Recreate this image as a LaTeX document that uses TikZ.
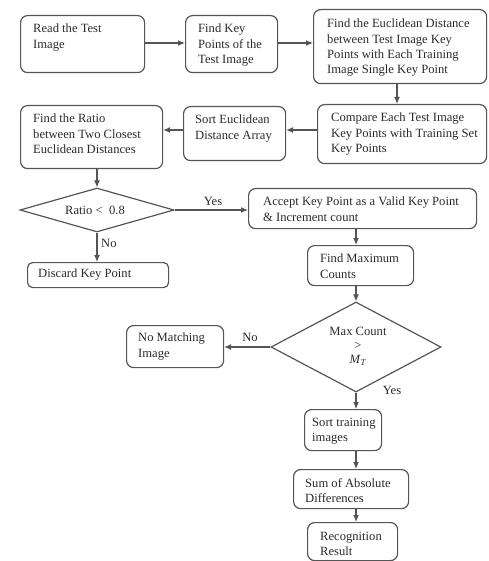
\documentclass[tikz,border=0pt]{standalone}
\usepackage{fontspec}
\setmainfont{Liberation Serif}
\usetikzlibrary{arrows.meta,shapes.geometric,calc}
\definecolor{lc}{HTML}{555555}
\definecolor{tc}{HTML}{2A2A2A}
\begin{document}
\begin{tikzpicture}[x=1pt,y=-1pt,
  box/.style={draw=lc, line width=1.2pt, rounded corners=7pt, inner sep=0pt, anchor=north west},
  dia/.style={draw=lc, line width=1.2pt, diamond, inner sep=0pt},
  txt/.style={anchor=north west, inner sep=0pt, align=left, font=\fontsize{12.6}{15.2}\selectfont, text=tc},
  ctxt/.style={inner sep=0pt, align=center, font=\fontsize{12.6}{14}\selectfont, text=tc},
  arr/.style={draw=lc, line width=1.1pt, -{Latex[length=7pt,width=6pt]}}]
\useasboundingbox (0,0) rectangle (488,561);
% boxes
\node[box, minimum width=124pt, minimum height=57pt] (b1) at (20,15) {};
\node[box, minimum width=92pt, minimum height=57pt] (b2) at (185,15) {};
\node[box, minimum width=173pt, minimum height=74pt] (b3) at (313,9) {};
\node[box, minimum width=169pt, minimum height=59pt] (b4) at (317,104) {};
\node[box, minimum width=102pt, minimum height=54pt] (b5) at (183,106) {};
\node[box, minimum width=142pt, minimum height=63pt] (b6) at (20,105) {};
\node[dia, minimum width=154pt, minimum height=44pt] (d1) at (97,210) {};
\node[box, minimum width=141pt, minimum height=25pt, rounded corners=5pt] (b8) at (27,262) {};
\node[box, minimum width=228pt, minimum height=40pt] (b9) at (248,188) {};
\node[box, minimum width=106pt, minimum height=40pt] (b10) at (307,245) {};
\node[dia, minimum width=170pt, minimum height=90pt] (d2) at (356,347) {};
\node[box, minimum width=97pt, minimum height=42pt] (b12) at (126,325) {};
\node[box, minimum width=77pt, minimum height=41pt] (b13) at (304,409) {};
\node[box, minimum width=115pt, minimum height=39pt] (b14) at (293,469) {};
\node[box, minimum width=90pt, minimum height=38pt] (b15) at (307,522) {};
% texts
\node[txt] (t1) at (33,24) {Read the Test\\Image};
\node[txt] (t2) at (198,24) {Find Key\\Points of the\\Test Image};
\node[txt] (t3) at (327,19) {Find the Euclidean Distance\\between Test Image Key\\Points with Each Training\\Image Single Key Point};
\node[txt] (t4) at (331,113) {Compare Each Test Image\\Key Points with Training Set\\Key Points};
\node[txt] (t5) at (195,115) {Sort Euclidean\\Distance Array};
\node[txt] (t6) at (33,114) {Find the Ratio\\between Two Closest\\Euclidean Distances};
\node[ctxt] (t7) at (95,210) {Ratio <\ \ 0.8};
\node[txt] (t8) at (38,269) {Discard Key Point};
\node[txt] (t9) at (263,197) {Accept Key Point as a Valid Key Point\\\& Increment count};
\node[txt] (t10) at (320,254) {Find Maximum\\Counts};
\node[ctxt] (t11) at (358,346) {Max Count\\>\\\textit{M}\textsubscript{\textit{T}}};
\node[txt] (t12) at (138,333) {No Matching\\Image};
\node[txt] (t13) at (312,418) {Sort training\\images};
\node[txt] (t14) at (305,478) {Sum of Absolute\\Differences};
\node[txt] (t15) at (320,532) {Recognition\\Result};
% labels
\node[ctxt] (yes1) at (213,201) {Yes};
\node[ctxt, anchor=west] (no1) at (101,243) {No};
\node[ctxt] (no2) at (250,337) {No};
\node[ctxt] (yes2) at (392,390) {Yes};
% helper coordinates
\coordinate (x397) at (397,0);
\coordinate (x97) at (97,0);
\coordinate (x356) at (356,0);
\coordinate (y43) at (0,43);
\coordinate (y130) at (0,130);
% connectors
\draw[arr] (b1.east |- y43) -- (b2.west |- y43);
\draw[arr] (b2.east |- y43) -- (b3.west |- y43);
\draw[arr] (b3.south -| x397) -- (b4.north -| x397);
\draw[arr] (b4.west |- y130) -- (b5.east |- y130);
\draw[arr] (b5.west |- y130) -- (b6.east |- y130);
\draw[arr] (b6.south -| x97) -- (d1.north);
\draw[arr] (d1.east) -- (b9.west |- d1.east);
\draw[arr] (d1.south) -- (b8.north -| d1.south);
\draw[arr] (b9.south -| x356) -- (b10.north -| x356);
\draw[arr] (b10.south -| x356) -- (d2.north);
\draw[arr] (d2.west) -- (b12.east |- d2.west);
\draw[arr] (d2.south) -- (b13.north -| d2.south);
\draw[arr] (b13.south -| x356) -- (b14.north -| x356);
\draw[arr] (b14.south -| x356) -- (b15.north -| x356);
\end{tikzpicture}
\end{document}
